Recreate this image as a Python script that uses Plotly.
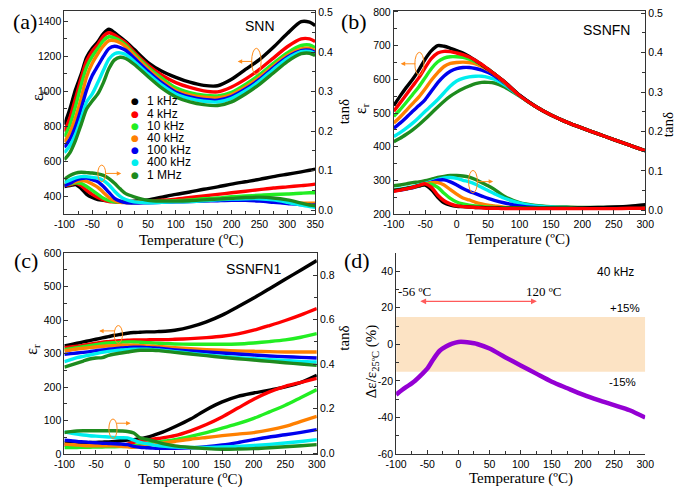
import plotly.graph_objects as go

W, H = 685, 494

FREQS = ["1 kHz", "4 kHz", "10 kHz", "40 kHz", "100 kHz", "400 kHz", "1 MHz"]
COLORS = ["#000000", "#ff0000", "#22ee22", "#ff8000", "#0000ee", "#00eeee", "#1e8b1e"]

# ---------------- panel (a) SNN ----------------
T_A = [-100, -90, -80, -70, -60, -50, -40, -30, -20, -10, 0, 10, 25, 50, 75, 100,
       125, 150, 175, 200, 225, 250, 275, 300, 325, 340, 350]
EPS_A = {
    "1 kHz":   [809, 900, 1010, 1097, 1195, 1246, 1283, 1330, 1355, 1335, 1310, 1285, 1240, 1165, 1115, 1080, 1052, 1034, 1032, 1069, 1125, 1181, 1252, 1330, 1398, 1395, 1376],
    "4 kHz":   [770, 850, 960, 1075, 1175, 1230, 1268, 1315, 1335, 1322, 1300, 1278, 1225, 1150, 1092, 1050, 1022, 1003, 997, 1025, 1070, 1125, 1190, 1255, 1300, 1300, 1285],
    "10 kHz":  [740, 810, 915, 1035, 1140, 1200, 1245, 1290, 1312, 1305, 1290, 1265, 1215, 1138, 1075, 1020, 993, 978, 974, 995, 1040, 1095, 1160, 1220, 1262, 1265, 1250],
    "40 kHz":  [710, 765, 850, 960, 1085, 1160, 1215, 1260, 1290, 1290, 1278, 1255, 1205, 1128, 1060, 1005, 980, 966, 962, 982, 1025, 1080, 1145, 1205, 1243, 1245, 1232],
    "100 kHz": [680, 725, 800, 900, 1010, 1090, 1145, 1200, 1245, 1258, 1250, 1235, 1190, 1115, 1048, 995, 968, 953, 949, 970, 1013, 1068, 1135, 1195, 1233, 1235, 1222],
    "400 kHz": [650, 690, 755, 845, 940, 985, 1050, 1120, 1185, 1215, 1220, 1210, 1172, 1100, 1035, 985, 958, 943, 939, 960, 1003, 1058, 1125, 1187, 1227, 1228, 1215],
    "1 MHz":   [610, 650, 720, 810, 900, 945, 985, 1050, 1130, 1180, 1195, 1188, 1155, 1085, 1018, 968, 940, 924, 919, 940, 985, 1040, 1105, 1170, 1215, 1218, 1205],
}
TAN_A = {
    "1 kHz":   [0.060, 0.062, 0.065, 0.055, 0.040, 0.032, 0.027, 0.025, 0.023, 0.022, 0.022, 0.022, 0.023, 0.026, 0.033, 0.040, 0.046, 0.053, 0.059, 0.066, 0.072, 0.078, 0.085, 0.091, 0.097, 0.101, 0.104],
    "4 kHz":   [0.062, 0.064, 0.068, 0.062, 0.050, 0.040, 0.032, 0.026, 0.022, 0.021, 0.020, 0.020, 0.021, 0.023, 0.025, 0.028, 0.032, 0.036, 0.040, 0.044, 0.048, 0.052, 0.056, 0.059, 0.062, 0.064, 0.066],
    "10 kHz":  [0.064, 0.066, 0.069, 0.068, 0.060, 0.050, 0.040, 0.030, 0.024, 0.021, 0.020, 0.020, 0.020, 0.021, 0.022, 0.024, 0.026, 0.029, 0.031, 0.034, 0.036, 0.038, 0.040, 0.041, 0.043, 0.044, 0.044],
    "40 kHz":  [0.066, 0.068, 0.072, 0.075, 0.073, 0.066, 0.058, 0.045, 0.032, 0.024, 0.020, 0.019, 0.019, 0.020, 0.021, 0.022, 0.023, 0.024, 0.026, 0.027, 0.027, 0.026, 0.023, 0.020, 0.018, 0.018, 0.018],
    "100 kHz": [0.062, 0.068, 0.076, 0.080, 0.081, 0.077, 0.072, 0.060, 0.045, 0.030, 0.023, 0.019, 0.018, 0.019, 0.020, 0.021, 0.022, 0.023, 0.024, 0.025, 0.025, 0.023, 0.020, 0.017, 0.014, 0.013, 0.013],
    "400 kHz": [0.070, 0.076, 0.082, 0.085, 0.085, 0.083, 0.081, 0.075, 0.064, 0.048, 0.035, 0.027, 0.021, 0.019, 0.020, 0.021, 0.022, 0.024, 0.026, 0.028, 0.029, 0.029, 0.026, 0.020, 0.013, 0.009, 0.007],
    "1 MHz":   [0.078, 0.088, 0.094, 0.096, 0.095, 0.094, 0.092, 0.088, 0.080, 0.068, 0.054, 0.042, 0.034, 0.025, 0.023, 0.023, 0.024, 0.026, 0.028, 0.030, 0.032, 0.033, 0.031, 0.026, 0.018, 0.013, 0.011],
}

# ---------------- panel (b) SSNFN ----------------
T_B = [-100, -90, -80, -70, -60, -50, -40, -30, -20, -10, 0, 10, 20, 30, 40, 50, 60, 75,
       100, 125, 150, 175, 200, 225, 250, 275, 300]
EPS_B = {
    "1 kHz":   [522, 550, 576, 600, 628, 660, 685, 700, 698, 692, 685, 678, 668, 656, 643, 630, 616, 595, 553, 520, 494, 473, 455, 438, 421, 405, 388],
    "4 kHz":   [505, 530, 555, 580, 605, 635, 662, 678, 683, 682, 678, 673, 666, 656, 644, 630, 616, 594, 552, 520, 494, 473, 455, 438, 421, 405, 388],
    "10 kHz":  [490, 510, 532, 555, 578, 605, 632, 652, 663, 667, 667, 665, 660, 652, 642, 630, 616, 593, 552, 520, 494, 473, 455, 438, 421, 405, 388],
    "40 kHz":  [470, 488, 508, 528, 548, 572, 598, 620, 638, 647, 650, 651, 650, 646, 638, 628, 615, 592, 552, 520, 494, 473, 455, 438, 421, 405, 388],
    "100 kHz": [455, 470, 487, 505, 522, 540, 565, 590, 610, 624, 632, 635, 635, 632, 627, 620, 610, 590, 552, 520, 494, 473, 455, 438, 421, 405, 388],
    "400 kHz": [430, 442, 455, 470, 487, 505, 522, 540, 560, 580, 595, 603, 607, 609, 609, 606, 600, 585, 551, 520, 494, 473, 455, 438, 421, 405, 388],
    "1 MHz":   [415, 425, 437, 450, 465, 482, 500, 518, 535, 550, 562, 572, 580, 587, 591, 591, 589, 578, 550, 520, 494, 473, 455, 438, 421, 405, 388],
}
TAN_B = {
    "1 kHz":   [0.050, 0.052, 0.055, 0.058, 0.062, 0.064, 0.052, 0.033, 0.019, 0.013, 0.010, 0.009, 0.008, 0.007, 0.007, 0.006, 0.006, 0.005, 0.005, 0.005, 0.005, 0.005, 0.006, 0.007, 0.008, 0.010, 0.014],
    "4 kHz":   [0.048, 0.051, 0.054, 0.058, 0.063, 0.067, 0.058, 0.038, 0.024, 0.016, 0.011, 0.009, 0.008, 0.007, 0.006, 0.005, 0.005, 0.004, 0.004, 0.004, 0.004, 0.004, 0.004, 0.004, 0.004, 0.005, 0.005],
    "10 kHz":  [0.050, 0.052, 0.055, 0.058, 0.062, 0.065, 0.066, 0.058, 0.043, 0.030, 0.021, 0.016, 0.013, 0.011, 0.009, 0.008, 0.007, 0.006, 0.005, 0.005, 0.005, 0.005, 0.005, 0.005, 0.005, 0.006, 0.006],
    "40 kHz":  [0.050, 0.052, 0.055, 0.058, 0.062, 0.066, 0.070, 0.070, 0.064, 0.052, 0.041, 0.031, 0.026, 0.020, 0.016, 0.013, 0.011, 0.008, 0.006, 0.005, 0.005, 0.005, 0.005, 0.005, 0.005, 0.006, 0.006],
    "100 kHz": [0.049, 0.051, 0.054, 0.057, 0.061, 0.066, 0.071, 0.076, 0.077, 0.072, 0.064, 0.055, 0.048, 0.042, 0.036, 0.030, 0.025, 0.019, 0.011, 0.007, 0.006, 0.005, 0.005, 0.005, 0.005, 0.006, 0.006],
    "400 kHz": [0.052, 0.054, 0.057, 0.060, 0.064, 0.068, 0.073, 0.078, 0.082, 0.083, 0.081, 0.076, 0.072, 0.066, 0.058, 0.050, 0.042, 0.031, 0.018, 0.011, 0.008, 0.007, 0.006, 0.006, 0.006, 0.006, 0.006],
    "1 MHz":   [0.062, 0.064, 0.067, 0.070, 0.072, 0.075, 0.079, 0.083, 0.086, 0.088, 0.088, 0.087, 0.084, 0.078, 0.070, 0.062, 0.053, 0.036, 0.019, 0.012, 0.009, 0.008, 0.007, 0.007, 0.007, 0.007, 0.007],
}

# ---------------- panel (c) SSNFN1 ----------------
T_C = [-100, -90, -80, -70, -60, -50, -40, -30, -20, -10, 0, 10, 20, 30, 40, 50, 60, 75,
       100, 125, 150, 175, 200, 225, 250, 275, 300]
EPS_C = {
    "1 kHz":   [323, 327, 331, 335, 339, 343, 347, 351, 355, 358, 361, 363, 364, 365, 365, 366, 367, 370, 380, 395, 415, 440, 466, 494, 522, 550, 578],
    "4 kHz":   [318, 320, 322, 325, 328, 331, 334, 336, 338, 339, 340, 341, 341, 341, 342, 342, 342, 343, 345, 348, 352, 359, 370, 384, 399, 416, 435],
    "10 kHz":  [312, 315, 318, 321, 324, 327, 330, 332, 333, 334, 335, 335, 334, 333, 332, 331, 330, 329, 328, 328, 328, 329, 332, 336, 341, 349, 360],
    "40 kHz":  [308, 311, 314, 316, 318, 320, 322, 323, 324, 325, 325, 325, 324, 323, 322, 321, 320, 318, 315, 312, 310, 308, 307, 306, 305, 305, 305],
    "100 kHz": [298, 300, 302, 304, 306, 309, 311, 313, 315, 317, 318, 319, 319, 318, 317, 316, 314, 311, 308, 305, 302, 299, 296, 293, 291, 289, 287],
    "400 kHz": [276, 282, 288, 292, 296, 300, 304, 307, 309, 311, 312, 313, 313, 313, 312, 311, 309, 306, 301, 296, 292, 288, 285, 282, 280, 277, 275],
    "1 MHz":   [260, 266, 272, 278, 284, 287, 288, 295, 299, 302, 305, 308, 310, 310, 310, 309, 307, 304, 299, 294, 289, 285, 281, 277, 273, 269, 265],
}
TAN_C = {
    "1 kHz":   [0.045, 0.046, 0.046, 0.047, 0.047, 0.048, 0.049, 0.050, 0.052, 0.055, 0.058, 0.060, 0.064, 0.070, 0.078, 0.088, 0.099, 0.118, 0.153, 0.195, 0.230, 0.255, 0.270, 0.283, 0.297, 0.318, 0.350],
    "4 kHz":   [0.035, 0.034, 0.033, 0.032, 0.032, 0.032, 0.032, 0.031, 0.031, 0.032, 0.040, 0.048, 0.054, 0.058, 0.062, 0.066, 0.070, 0.078, 0.100, 0.128, 0.162, 0.202, 0.242, 0.275, 0.300, 0.318, 0.336],
    "10 kHz":  [0.025, 0.025, 0.025, 0.026, 0.026, 0.027, 0.027, 0.028, 0.028, 0.029, 0.030, 0.033, 0.038, 0.042, 0.046, 0.050, 0.054, 0.060, 0.075, 0.092, 0.112, 0.132, 0.156, 0.185, 0.215, 0.250, 0.285],
    "40 kHz":  [0.040, 0.038, 0.036, 0.034, 0.033, 0.033, 0.033, 0.032, 0.032, 0.030, 0.028, 0.026, 0.030, 0.034, 0.038, 0.042, 0.046, 0.052, 0.062, 0.070, 0.078, 0.085, 0.092, 0.104, 0.120, 0.142, 0.165],
    "100 kHz": [0.058, 0.055, 0.052, 0.050, 0.048, 0.046, 0.044, 0.043, 0.042, 0.040, 0.038, 0.030, 0.026, 0.024, 0.022, 0.021, 0.021, 0.021, 0.023, 0.028, 0.036, 0.047, 0.060, 0.072, 0.082, 0.093, 0.105],
    "400 kHz": [0.095, 0.090, 0.085, 0.081, 0.078, 0.076, 0.074, 0.072, 0.070, 0.069, 0.068, 0.058, 0.048, 0.042, 0.037, 0.033, 0.030, 0.027, 0.025, 0.025, 0.027, 0.030, 0.034, 0.039, 0.045, 0.052, 0.060],
    "1 MHz":   [0.092, 0.096, 0.099, 0.100, 0.100, 0.100, 0.100, 0.100, 0.100, 0.099, 0.097, 0.090, 0.068, 0.062, 0.055, 0.047, 0.040, 0.032, 0.025, 0.020, 0.017, 0.018, 0.020, 0.024, 0.028, 0.033, 0.038],
}

# ---------------- panel (d) 40 kHz deviation ----------------
T_D = [-100, -90, -80, -75, -70, -60, -50, -40, -30, -20, -10, 0, 10, 20, 25, 30, 50, 75,
       100, 125, 150, 175, 200, 225, 250, 275, 300]
DEV_D = [-27.5, -24.8, -22.5, -21.3, -20.0, -16.8, -13.3, -8.0, -3.5, -1.2, 0.4, 1.3, 1.3, 0.9,
         0.6, 0.2, -2.3, -7.0, -11.5, -16.0, -20.4, -24.0, -27.5, -30.5, -33.2, -36.0, -40.0]

ORANGE = "#ff8c1a"
AXC = "#333333"
SANS = "Liberation Sans, Arial, sans-serif"
SERIF = "Liberation Serif, Times New Roman, serif"


def px(x):
    return x / W


def py(y):
    return 1 - y / H


def ticks(lo, hi, step):
    out = []
    v = lo
    while v <= hi + 1e-9:
        out.append(round(v, 6))
        v += step
    return out


def xaxis_cfg(dom, rng, anchor, lo, hi):
    tv = ticks(lo, hi, 50)
    return dict(domain=dom, range=rng, anchor=anchor, showline=True, linecolor=AXC, linewidth=1,
                mirror=True, ticks="inside", ticklen=4, tickcolor=AXC, tickmode="array",
                tickvals=tv, ticktext=[str(int(v)) for v in tv],
                minor=dict(tickvals=ticks(lo + 25, hi, 50), ticks="inside", ticklen=3, tickcolor=AXC),
                tickfont=dict(family=SANS, size=10.5, color="#000"), showgrid=False, zeroline=False)


def yaxis_cfg(dom, rng, anchor, tv, mv, fmt, side="left", overlay=None, mirror=False):
    d = dict(range=rng, anchor=anchor, showline=True, linecolor=AXC, linewidth=1,
             ticks="inside", ticklen=4, tickcolor=AXC, tickmode="array", tickvals=tv,
             ticktext=[fmt(v) for v in tv],
             minor=dict(tickvals=mv, ticks="inside", ticklen=3, tickcolor=AXC),
             tickfont=dict(family=SANS, size=10.5, color="#000"), showgrid=False, zeroline=False,
             side=side, mirror=mirror)
    if overlay:
        d["overlaying"] = overlay
    else:
        d["domain"] = dom
    return d


fig = go.Figure()


def add_panel(T, eps, tan, xa, ya, ya2, order):
    for f in order:
        c = COLORS[FREQS.index(f)]
        fig.add_trace(go.Scatter(x=T, y=eps[f], xaxis=xa, yaxis=ya, mode="lines",
                                 line=dict(color=c, width=3.4, shape="spline", smoothing=0.8),
                                 showlegend=False, hoverinfo="skip"))
    for f in order:
        c = COLORS[FREQS.index(f)]
        fig.add_trace(go.Scatter(x=T, y=tan[f], xaxis=xa, yaxis=ya2, mode="lines",
                                 line=dict(color=c, width=3.4, shape="spline", smoothing=0.8),
                                 showlegend=False, hoverinfo="skip"))


add_panel(T_A, EPS_A, TAN_A, "x", "y", "y2", FREQS)
add_panel(T_B, EPS_B, TAN_B, "x2", "y3", "y4",
          ["1 MHz", "400 kHz", "100 kHz", "40 kHz", "10 kHz", "1 kHz", "4 kHz"])
add_panel(T_C, EPS_C, TAN_C, "x3", "y5", "y6", FREQS)
fig.add_trace(go.Scatter(x=T_D, y=DEV_D, xaxis="x4", yaxis="y7", mode="lines",
                         line=dict(color="#9400d3", width=4.5, shape="spline", smoothing=0.8),
                         showlegend=False, hoverinfo="skip"))

top_dom = [py(213.3), py(5)]
bot_dom = [py(459.3), py(253)]

f0 = lambda v: str(int(v))
f1 = lambda v: "%.1f" % v

layout = dict(
    width=W, height=H, autosize=False, margin=dict(l=0, r=0, t=0, b=0),
    paper_bgcolor="white", plot_bgcolor="white", showlegend=False,
    xaxis=xaxis_cfg([px(55), px(313.3)], [-100, 350], "y", -100, 350),
    yaxis=yaxis_cfg(top_dom, [298, 1460], "x", ticks(400, 1400, 200), ticks(300, 1400, 200), f0),
    yaxis2=yaxis_cfg(None, [-0.0099, 0.504], "x", ticks(0, 0.5, 0.1), ticks(0.05, 0.45, 0.1), f1,
                     side="right", overlay="y"),
    xaxis2=xaxis_cfg([px(394.3), px(653.3)], [-100, 300], "y3", -100, 300),
    yaxis3=yaxis_cfg(top_dom, [200, 803], "x2", ticks(200, 800, 100), ticks(250, 750, 100), f0),
    yaxis4=yaxis_cfg(None, [-0.0099, 0.506], "x2", ticks(0, 0.5, 0.1), ticks(0.05, 0.45, 0.1), f1,
                     side="right", overlay="y3"),
    xaxis3=xaxis_cfg([px(55), px(315)], [-100, 300], "y5", -100, 300),
    yaxis5=yaxis_cfg(bot_dom, [0, 601], "x3", ticks(0, 600, 100), ticks(50, 550, 100), f0),
    yaxis6=yaxis_cfg(None, [-0.005, 0.9], "x3", ticks(0, 0.8, 0.2), ticks(0.1, 0.9, 0.2), f1,
                     side="right", overlay="y5"),
    xaxis4=xaxis_cfg([px(396.7), px(653.3)], [-100, 300], "y7", -100, 300),
    yaxis7=yaxis_cfg(bot_dom, [-60, 50], "x4", ticks(-60, 40, 20), ticks(-50, 50, 20), f0),
)
layout["xaxis4"]["mirror"] = False
fig.update_layout(**layout)

ann = []
shapes = []


def text(x, y, s, size, family=SANS, angle=0, xanchor="center", color="#000"):
    ann.append(dict(x=px(x), y=py(y), xref="paper", yref="paper", text=s, showarrow=False,
                    font=dict(family=family, size=size, color=color), textangle=angle,
                    xanchor=xanchor, yanchor="middle"))


# panel labels
text(14, 16, "(a)", 22, SERIF)
text(353, 16, "(b)", 22, SERIF)
text(15, 261, "(c)", 22, SERIF)
text(356, 261, "(d)", 22, SERIF)
# sample names
text(257, 21, "SNN", 14)
text(613, 25, "SSNFN", 14)
text(250, 270, "SSNFN1", 14)
text(623, 273, "40 kHz", 12)
# x titles
text(186, 239, "Temperature (<sup>o</sup>C)", 15, SERIF)
text(522, 239, "Temperature (ºC)", 15, SERIF)
text(185, 484, "Temperature (<sup>o</sup>C)", 15, SERIF)
text(525, 484, "Temperature (ºC)", 15, SERIF)
# y titles
text(29, 92, "ε<sub>r</sub>", 16, SERIF, -90)
text(343, 108, "tanδ", 15, SERIF, -90)
text(361, 105, "ε<sub>r</sub>", 16, SERIF, -90)
text(677, 122, "tanδ", 15, SERIF, -90)
text(22, 352, "ε<sub>r</sub>", 16, SERIF, -90)
text(343, 340, "tanδ", 15, SERIF, -90)
text(372, 365, "Δε/ε<sub>25ºC</sub> (%)", 15, SERIF, -90)
# (d) annotations
text(416, 293, "-56 ºC", 13, SERIF)
text(549, 293, "120 ºC", 13, SERIF)
text(632, 310, "+15%", 11.5)
text(630, 385, "-15%", 11.5)

# legend in (a)
for i, f in enumerate(FREQS):
    yy = 97.7 + i * 12.5
    text(127.3, yy, "●", 9, "DejaVu Sans", color=COLORS[i])
    text(138.3, yy, f, 12, SANS, xanchor="left")


def arrow(xa, ya, tip, tail, yv, color=ORANGE, both=False, width=1):
    d = dict(x=tip, y=yv, ax=tail, ay=yv, xref=xa, yref=ya, axref=xa, ayref=ya, text="",
             showarrow=True, arrowhead=2, arrowsize=0.9, arrowwidth=width, arrowcolor=color)
    if both:
        d.update(arrowside="end+start", startarrowhead=2, startarrowsize=0.9)
    ann.append(d)


def ellipse(xa, ya, x0, x1, y0, y1):
    shapes.append(dict(type="circle", xref=xa, yref=ya, x0=x0, x1=x1, y0=y0, y1=y1,
                       line=dict(color=ORANGE, width=1)))


ellipse("x", "y", 236, 253, 1096, 1246)
arrow("x", "y", 211, 240, 1171)
ellipse("x", "y2", -40, -26, 0.072, 0.114)
arrow("x", "y2", 2, -29, 0.093)
ellipse("x2", "y3", -66.5, -52, 612, 680)
arrow("x2", "y3", -89, -63, 646)
ellipse("x2", "y4", 19, 33, 0.044, 0.101)
arrow("x2", "y4", 58, 30, 0.0726)
ellipse("x3", "y5", -21, -8, 331, 384)
arrow("x3", "y5", -45, -18, 368)
ellipse("x3", "y6", -29.5, -16.5, 0.066, 0.153)
arrow("x3", "y6", 5, -19, 0.134)

# (d) band and range arrow
shapes.append(dict(type="rect", xref="x4", yref="y7", x0=-100, x1=300, y0=-15, y1=15,
                   fillcolor="#fce3c4", line=dict(width=0), layer="below"))
arrow("x4", "y7", 126, -63.6, 23.5, color="#ff5a5a", both=True, width=1.3)

fig.update_layout(annotations=ann, shapes=shapes)
fig.write_html("out.html", config={"displayModeBar": False},
               post_script="document.body.style.margin='0px';document.body.style.padding='0px';")
